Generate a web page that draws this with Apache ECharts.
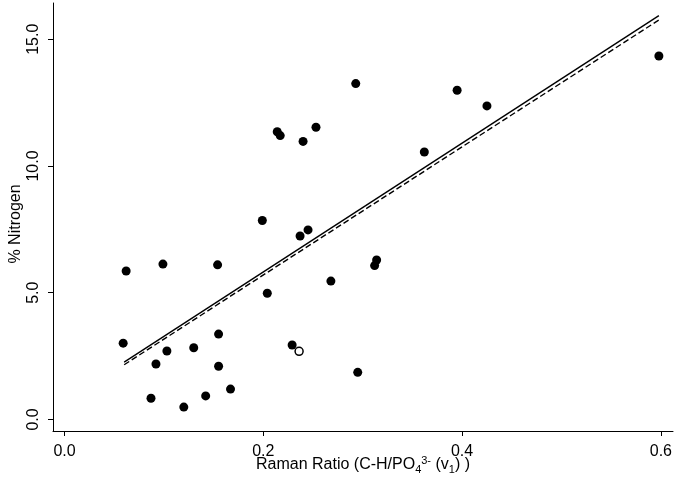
<!DOCTYPE html>
<html>
<head>
<meta charset="utf-8">
<title>Raman ratio vs nitrogen</title>
<script src="https://cdn.jsdelivr.net/npm/echarts@6/dist/echarts.min.js"></script>
<style>
  html, body { margin: 0; padding: 0; background: #fff; }
  #main { width: 679px; height: 483px; }
</style>
</head>
<body>
<div id="main"></div>
<script>
// 数据: Raman ratio (x) 和 % Nitrogen (y)
var ramanRatio = [0.062, 0.059, 0.099, 0.154, 0.199, 0.204, 0.155, 0.103, 0.130, 0.092,
  0.155, 0.087, 0.120, 0.142, 0.167, 0.214, 0.217, 0.253, 0.240, 0.293,
  0.395, 0.362, 0.237, 0.245, 0.314, 0.312, 0.268, 0.229, 0.295, 0.425, 0.598];
var nitrogen = [5.86, 3.01, 6.13, 6.10, 7.85, 4.98, 3.37, 2.70, 2.83, 2.19,
  2.10, 0.84, 0.49, 0.93, 1.20, 11.35, 11.20, 11.53, 10.97, 13.25,
  12.99, 10.55, 7.24, 7.48, 6.29, 6.07, 5.46, 2.94, 1.86, 12.37, 14.34];
// 空心点
var openRatio = [0.236];
var openNitrogen = [2.69];
// 回归线 (两端点)
var fitSolidX = [0.060, 0.598];
var fitSolidY = [2.26, 15.93];
var fitDashX = [0.060, 0.598];
var fitDashY = [2.16, 15.76];
// 刻度
var xTicks = [0, 0.2, 0.4, 0.6];
var yTicks = [0, 5, 10, 15];

function pairs(xs, ys) {
  return xs.map(function (x, i) { return [x, ys[i]]; });
}

var font = 'Liberation Sans, Arial, Helvetica, sans-serif';

var option = {
  animation: false,
  backgroundColor: '#fff',
  textStyle: { fontFamily: font, color: '#000' },
  grid: { left: 53, right: 6, top: 3, bottom: 52, containLabel: false, outerBoundsMode: 'none' },
  xAxis: {
    type: 'value',
    min: -0.0116,
    max: 0.6122,
    splitLine: { show: false },
    axisLine: { onZero: false, lineStyle: { color: '#000', width: 1 } },
    axisTick: { customValues: xTicks, length: 5, lineStyle: { color: '#000' } },
    axisLabel: {
      customValues: xTicks,
      margin: 13,
      fontSize: 16,
      color: '#000',
      fontFamily: font,
      formatter: function (v) { return v.toFixed(1); }
    },
    name: '{n|Raman Ratio (C-H/PO}{sub|4}{sup|3-}{n| (v}{sub|1}{n|) )}',
    nameLocation: 'middle',
    nameGap: 24,
    nameMoveOverlap: false,
    nameTextStyle: {
      color: '#000',
      fontFamily: font,
      rich: {
        n: { fontSize: 16, fontFamily: font, color: '#000', lineHeight: 20 },
        sub: { fontSize: 11, fontFamily: font, color: '#000', verticalAlign: 'bottom', lineHeight: 14 },
        sup: { fontSize: 11, fontFamily: font, color: '#000', verticalAlign: 'top', lineHeight: 14 }
      }
    }
  },
  yAxis: {
    type: 'value',
    min: -0.454,
    max: 16.43,
    splitLine: { show: false },
    axisLine: { show: true, onZero: false, lineStyle: { color: '#000', width: 1 } },
    axisTick: { show: true, customValues: yTicks, length: 5, lineStyle: { color: '#000' } },
    axisLabel: {
      customValues: yTicks,
      rotate: 90,
      margin: 11,
      fontSize: 16,
      color: '#000',
      fontFamily: font,
      formatter: function (v) { return v.toFixed(1); }
    },
    name: '% Nitrogen',
    nameLocation: 'middle',
    nameGap: 29,
    nameMoveOverlap: false,
    nameTextStyle: { fontSize: 16, color: '#000', fontFamily: font, padding: [0, 14, 0, 0] }
  },
  series: [
    {
      type: 'line',
      data: pairs(fitSolidX, fitSolidY),
      symbol: 'none',
      lineStyle: { color: '#000', width: 1.4 },
      z: 2
    },
    {
      type: 'line',
      data: pairs(fitDashX, fitDashY),
      symbol: 'none',
      lineStyle: { color: '#000', width: 1.4, type: [6, 3] },
      z: 2
    },
    {
      type: 'scatter',
      data: pairs(ramanRatio, nitrogen),
      symbol: 'circle',
      symbolSize: 9,
      itemStyle: { color: '#000', opacity: 1 },
      z: 3
    },
    {
      type: 'scatter',
      data: pairs(openRatio, openNitrogen),
      symbol: 'circle',
      symbolSize: 8,
      itemStyle: { color: '#fff', borderColor: '#000', borderWidth: 1.5, opacity: 1 },
      z: 4
    }
  ]
};

var myChart = echarts.init(document.getElementById('main'));
myChart.setOption(option);
</script>
</body>
</html>
